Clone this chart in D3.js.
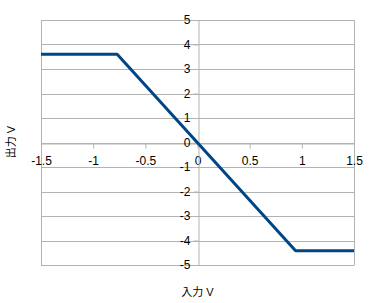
<!DOCTYPE html>
<html>
<head>
<meta charset="utf-8">
<script src="https://cdn.jsdelivr.net/npm/d3@7"></script>
<style>
html,body{margin:0;padding:0;background:#fff;}
svg{display:block;}
</style>
</head>
<body>
<svg id="chart" width="370" height="303"></svg>
<script>
// Data
const inputV = [-1.5, -0.77, 0.94, 1.5];
const outputV = [3.6, 3.6, -4.42, -4.42];
const xTicks = [-1.5, -1, -0.5, 0, 0.5, 1, 1.5];
const yTicks = [-5, -4, -3, -2, -1, 0, 1, 2, 3, 4, 5];
const xTitle = "入力 V";
const yTitle = "出力 V";

const svg = d3.select("#chart");
const font = "'Liberation Sans', Arial, 'Noto Sans CJK JP', sans-serif";
const pLeft = 41, pRight = 354, pTop = 20, pBottom = 265;
const x = d3.scaleLinear().domain([-1.5, 1.5]).range([pLeft, pRight]);
const y = d3.scaleLinear().domain([-5, 5]).range([pBottom, pTop]);
const grid = "#b3b3b3";

// horizontal gridlines
svg.append("g").selectAll("line").data(yTicks).join("line")
  .attr("x1", pLeft).attr("x2", pRight)
  .attr("y1", d => Math.round(y(d)) + 0.5).attr("y2", d => Math.round(y(d)) + 0.5)
  .attr("stroke", grid).attr("stroke-width", 1);

// plot border left/right
[pLeft, pRight].forEach(px => {
  svg.append("line").attr("x1", Math.round(px) + 0.5).attr("x2", Math.round(px) + 0.5)
    .attr("y1", pTop).attr("y2", pBottom + 0.5)
    .attr("stroke", grid).attr("stroke-width", 1);
});

// x axis at y=0
const xAxis = d3.axisBottom(x).tickValues(xTicks).tickSize(5).tickPadding(8)
  .tickFormat(d => String(d));
const gx = svg.append("g").attr("transform", `translate(0,${Math.round(y(0)) + 0.5})`).call(xAxis);
gx.select(".domain").attr("stroke", grid);
gx.selectAll(".tick line").attr("stroke", grid);
gx.selectAll(".tick text").attr("fill", "#000").style("font-family", font).style("font-size", "12px");

// y axis at x=0
const yAxis = d3.axisLeft(y).tickValues(yTicks).tickSize(5).tickPadding(3)
  .tickFormat(d => String(d));
const gy = svg.append("g").attr("transform", `translate(${Math.round(x(0)) + 0.5},0)`).call(yAxis);
gy.select(".domain").attr("stroke", grid);
gy.selectAll(".tick line").attr("stroke", grid);
gy.selectAll(".tick text").attr("fill", "#000").style("font-family", font).style("font-size", "12px");

// data line
const line = d3.line().x((d, i) => x(inputV[i])).y((d, i) => y(outputV[i]));
svg.append("path").datum(inputV)
  .attr("d", line)
  .attr("fill", "none").attr("stroke", "#004586").attr("stroke-width", 3)
  .attr("stroke-linejoin", "round");

// axis titles
svg.append("text").attr("x", (pLeft + pRight) / 2).attr("y", 296)
  .attr("text-anchor", "middle").attr("fill", "#000")
  .style("font-family", font).style("font-size", "11px").text(xTitle);
svg.append("text").attr("transform", "translate(15,142) rotate(-90)")
  .attr("text-anchor", "middle").attr("fill", "#000")
  .style("font-family", font).style("font-size", "11px").text(yTitle);
</script>
</body>
</html>
